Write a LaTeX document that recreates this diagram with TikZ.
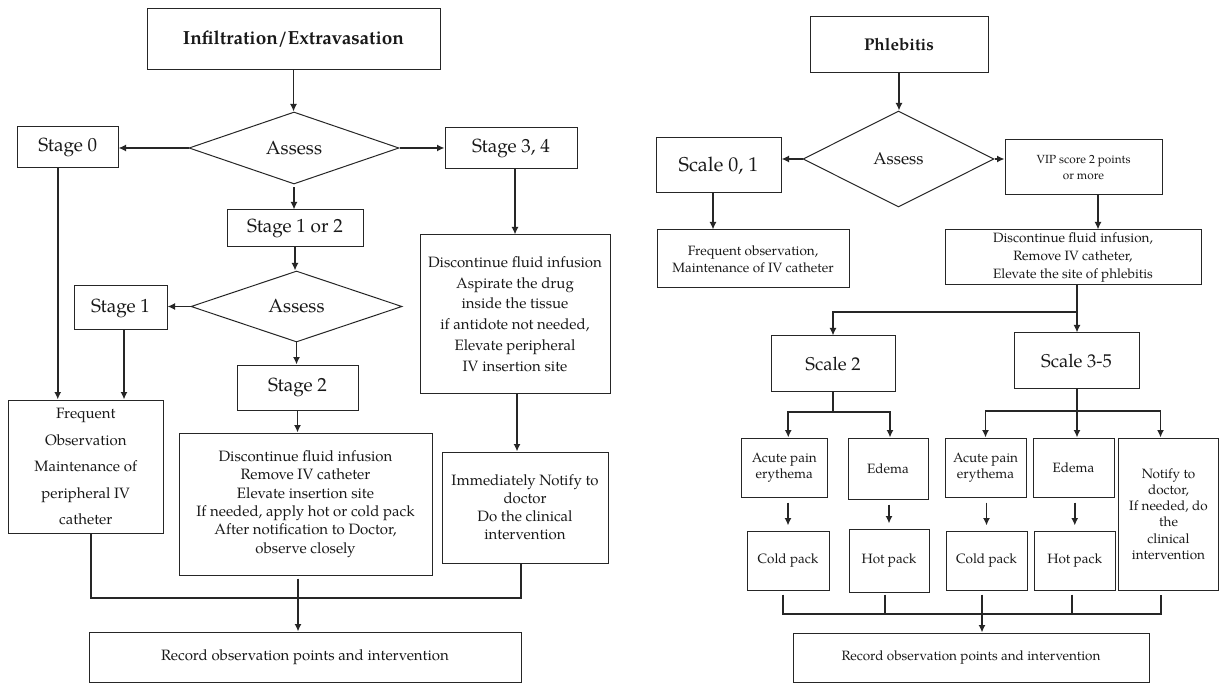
\documentclass[tikz,border=0pt]{standalone}
\usepackage{fontspec}
\setmainfont{TeX Gyre Pagella}
\usetikzlibrary{shapes.geometric,arrows.meta,calc}
\newcommand{\fT}{\fontsize{19}{22}\selectfont\bfseries}
\newcommand{\fP}{\fontsize{17}{20}\selectfont\bfseries}
\newcommand{\fS}{\fontsize{19}{22}\selectfont}
\newcommand{\fL}{\fontsize{15}{18.3}\selectfont}
\newcommand{\fR}{\fontsize{13.5}{16.2}\selectfont}
\newcommand{\fV}{\fontsize{11.8}{16.5}\selectfont}
\tikzset{
  box/.style={draw=black!85, line width=1pt, inner sep=0pt, align=center, text=black!90},
  dia/.style={draw=black!85, line width=1pt, shape=diamond, inner sep=0pt, text=black!90},
  conn/.style={line width=1.8pt, draw=black!85},
  arr/.style={conn, -{Latex[length=7.5pt,width=7pt]}},
  gapped/.style={shorten <=5pt, shorten >=5pt}
}
\begin{document}
\begin{tikzpicture}[x=1pt,y=-1pt]
\fill[white] (0,0) rectangle (1220,684);
\useasboundingbox (0,0) rectangle (1220,684);
% ---------------- left panel ----------------
\node[box,minimum width=293pt,minimum height=61pt,font=\fT] (title) at (293.5,39.5) {Infiltration/Extravasation};
\node[dia,minimum width=210pt,minimum height=72pt,font=\fS] (as1) at (294,148) {Assess};
\node[box,minimum width=100.5pt,minimum height=41pt,font=\fS] (s0) at (67.75,147.5) {Stage 0};
\node[box,minimum width=132pt,minimum height=41pt,font=\fS] (s34) at (511,148.5) {Stage 3, 4};
\node[box,minimum width=136pt,minimum height=37pt,font=\fS] (s12) at (295,228.5) {Stage 1 or 2};
\node[dia,minimum width=211pt,minimum height=71pt,font=\fS] (as2) at (296.5,306.5) {Assess};
\node[box,minimum width=93pt,minimum height=44pt,font=\fS] (s1) at (120.5,308) {Stage 1};
\node[box,minimum width=121pt,minimum height=45pt,font=\fS] (s2) at (297.5,387.5) {Stage 2};
\node[box,minimum width=154.5pt,minimum height=133pt,font=\fontsize{15}{26.5}\selectfont] (freq) at (85.75,466.5)
  {Frequent\\Observation\\Maintenance of\\peripheral IV\\catheter};
\node[box,minimum width=253pt,minimum height=142pt,font=\fL] (disc2) at (305.5,504)
  {Discontinue fluid infusion\\Remove IV catheter\\Elevate insertion site\\If needed, apply hot or cold pack\\After notification to Doctor,\\observe closely};
\node[box,minimum width=190pt,minimum height=158pt,font=\fontsize{15}{20.7}\selectfont] (disc34) at (515,314)
  {Discontinue fluid infusion\\Aspirate the drug\\inside the tissue\\if antidote not needed,\\Elevate peripheral\\IV insertion site};
\node[box,minimum width=166pt,minimum height=111pt,font=\fontsize{15}{18}\selectfont] (not34) at (525,507.5)
  {Immediately Notify to\\doctor\\Do the clinical\\intervention};
\node[box,minimum width=432pt,minimum height=50pt,font=\fL] (rec1) at (305,657) {Record observation points and intervention};

\draw[arr] (title.south) -- (title.south |- as1.north);
\draw[arr] (as1.west) -- (as1.west -| s0.east);
\draw[arr] (as1.east) -- (as1.east -| s34.west);
\draw[arr,shorten <=3pt] (as1.south) -- (as1.south |- s12.north);
\draw[arr] (s12.south) -- (s12.south |- as2.north);
\draw[arr] (as2.west) -- (as2.west -| s1.east);
\draw[arr] (as2.south) -- (as2.south |- s2.north);
\draw[arr] ([xshift=-10pt]s0.south) -- ([xshift=-10pt]s0.south |- freq.north);
\draw[arr] ([xshift=3.5pt]s1.south) -- ([xshift=3.5pt]s1.south |- freq.north);
\draw[arr] (s2.south) -- (s2.south |- disc2.north);
\draw[arr] ([xshift=4pt]s34.south) -- ([xshift=4pt]s34.south |- disc34.north);
\draw[arr] ([xshift=2pt]disc34.south) -- ([xshift=2pt]disc34.south |- not34.north);
\coordinate (j1) at (298,598);
\draw[conn] ([xshift=5pt]freq.south) |- (j1) -| ([xshift=-4pt]not34.south);
\draw[arr,shorten <=3pt] ([xshift=-7.5pt]disc2.south) -- ([xshift=-7.5pt]disc2.south |- rec1.north);

% ---------------- right panel ----------------
\node[box,minimum width=178pt,minimum height=56pt,font=\fP] (phl) at (899,45) {Phlebitis};
\node[dia,minimum width=191pt,minimum height=96pt,font=\fontsize{17}{20}\selectfont] (as3) at (898.5,159) {Assess};
\node[box,minimum width=125pt,minimum height=55pt,font=\fontsize{20}{23}\selectfont] (sc01) at (718.5,165.5) {Scale 0, 1};
\node[box,minimum width=157pt,minimum height=55pt,font=\fV] (vip) at (1083.5,167.5) {VIP score 2 points\\or more};
\node[box,minimum width=192pt,minimum height=58pt,font=\fontsize{13.5}{16.7}\selectfont] (freqR) at (753,259)
  {Frequent observation,\\Maintenance of IV catheter};
\node[box,minimum width=256pt,minimum height=55pt,font=\fontsize{13.5}{18}\selectfont] (discR) at (1073,257.5)
  {Discontinue fluid infusion,\\Remove IV catheter,\\Elevate the site of phlebitis};
\node[box,minimum width=124pt,minimum height=55pt,font=\fontsize{18.5}{21}\selectfont] (sc2) at (833,363.5) {Scale 2};
\node[box,minimum width=125pt,minimum height=55pt,font=\fontsize{18.5}{21}\selectfont] (sc35) at (1076.5,360.5) {Scale 3-5};
\node[box,minimum width=85.5pt,minimum height=59pt,font=\fR] (ap1) at (784.25,467.5) {Acute pain\\erythema};
\node[box,minimum width=80pt,minimum height=61pt,font=\fR] (ed1) at (888,468.5) {Edema};
\node[box,minimum width=81pt,minimum height=59pt,font=\fR] (ap2) at (985.5,467.5) {Acute pain\\erythema};
\node[box,minimum width=81pt,minimum height=59pt,font=\fR] (ed2) at (1073.5,467.5) {Edema};
\node[box,minimum width=100pt,minimum height=152pt,font=\fR] (notR) at (1168.5,514)
  {Notify to\\doctor,\\If needed, do\\the\\clinical\\intervention};
\node[box,minimum width=82pt,minimum height=59pt,font=\fR] (cp1) at (788,560.5) {Cold pack};
\node[box,minimum width=80pt,minimum height=63pt,font=\fR] (hp1) at (889,560.5) {Hot pack};
\node[box,minimum width=81pt,minimum height=59pt,font=\fR] (cp2) at (986.5,560.5) {Cold pack};
\node[box,minimum width=80.5pt,minimum height=59pt,font=\fR] (hp2) at (1074.75,560.5) {Hot pack};
\node[box,minimum width=356pt,minimum height=49pt,font=\fR] (rec2) at (971,657.5) {Record observation points and intervention};

\draw[arr] (phl.south) -- (phl.south |- as3.north);
\draw[arr] (as3.west) -- (as3.west -| sc01.east);
\draw[arr] (as3.east) -- (as3.east -| vip.west);
\draw[arr] ([xshift=-5.5pt]sc01.south) -- ([xshift=-5.5pt]sc01.south |- freqR.north);
\draw[arr] ([xshift=14.5pt]vip.south) -- ([xshift=14.5pt]vip.south |- discR.north);
\coordinate (b1) at (1077,312);
\draw[conn] (b1 |- discR.south) -- (b1);
\draw[arr] (b1) -- (b1 |- sc35.north);
\draw[arr] (b1) -| (sc2.north);
\coordinate (b2) at (833,412);
\draw[conn] (sc2.south) -- (b2);
\draw[arr] (b2) -| ([xshift=4pt]ap1.north);
\draw[arr] (b2) -| ([xshift=2pt]ed1.north);
\coordinate (b3) at (1077,411);
\draw[conn] (b3 |- sc35.south) -- (b3);
\draw[arr] (b3) -| (ap2.north);
\draw[arr] (b3) -- (b3 |- ed2.north);
\draw[arr] (b3) -| ([xshift=-8pt]notR.north);
\draw[arr,gapped] (cp1.north |- ap1.south) -- (cp1.north);
\draw[arr,gapped] (hp1.north |- ed1.south) -- (hp1.north);
\draw[arr,gapped] (cp2.north |- ap2.south) -- (cp2.north);
\draw[arr,gapped] (hp2.north |- ed2.south) -- (hp2.north);
\coordinate (b4) at (982,614);
\draw[conn] ([xshift=-5pt,yshift=-4pt]cp1.south) |- ([xshift=-7.5pt]notR.south |- b4) -- ([xshift=-7.5pt,yshift=-4pt]notR.south);
\draw[conn] ([xshift=-4pt,yshift=-2pt]hp1.south) -- ([xshift=-4pt]hp1.south |- b4);
\draw[conn] ([xshift=-3pt,yshift=-4pt]hp2.south) -- ([xshift=-3pt]hp2.south |- b4);
\draw[arr] ([xshift=-4.5pt,yshift=-4pt]cp2.south) -- ([xshift=-4.5pt]cp2.south |- rec2.north);
\end{tikzpicture}
\end{document}
